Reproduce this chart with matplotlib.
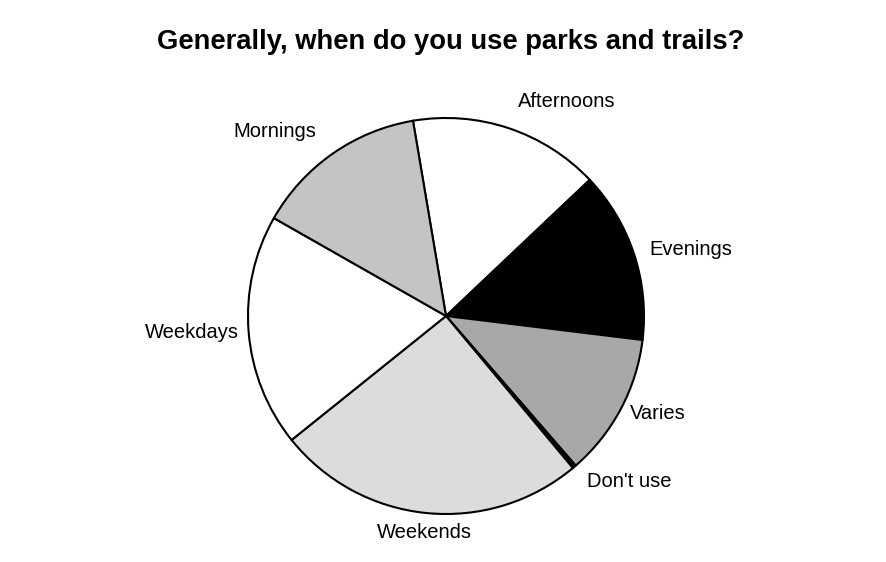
import numpy as np
import matplotlib.pyplot as plt

labels = ["Afternoons", "Evenings", "Varies", "Don't use", "Weekends", "Weekdays", "Mornings"]
shares = [15.6, 14.0, 11.7, 0.3, 25.3, 19.0, 14.1]
colors = ["white", "black", "#a8a8a8", "black", "#dcdcdc", "white", "#c4c4c4"]
# how far out each label sits (in radii)
label_dist = [1.14, 1.08, 1.05, 1.1, 1.1, 1.05, 1.14]

plt.rcParams['font.family'] = ['Liberation Sans', 'DejaVu Sans']

fig = plt.figure(figsize=(8.87, 5.62), dpi=100)
fig.text(451 / 887, 1 - 42 / 562, "Generally, when do you use parks and trails?",
         ha="center", va="center", fontsize=19.7, fontweight="bold")

# pie centre at about (446, 316) px, radius 198 px
ax = fig.add_axes([(446 - 198) / 887, (562 - 316 - 198) / 562, 396 / 887, 396 / 562])
wedges, texts = ax.pie(shares, labels=labels, colors=colors, startangle=99.6,
                       counterclock=False,
                       wedgeprops={"edgecolor": "black", "linewidth": 1.5},
                       textprops={"fontsize": 14.5})
ax.set_xlim(-1, 1)
ax.set_ylim(-1, 1)
ax.set_aspect("equal")

for w, t, d in zip(wedges, texts, label_dist):
    ang = np.deg2rad((w.theta1 + w.theta2) / 2)
    t.set_position((d * np.cos(ang), d * np.sin(ang)))
    if abs(np.cos(ang)) < 0.2:
        t.set_ha("center")
    t.set_clip_on(False)

fig.savefig("out.png", dpi=100)
